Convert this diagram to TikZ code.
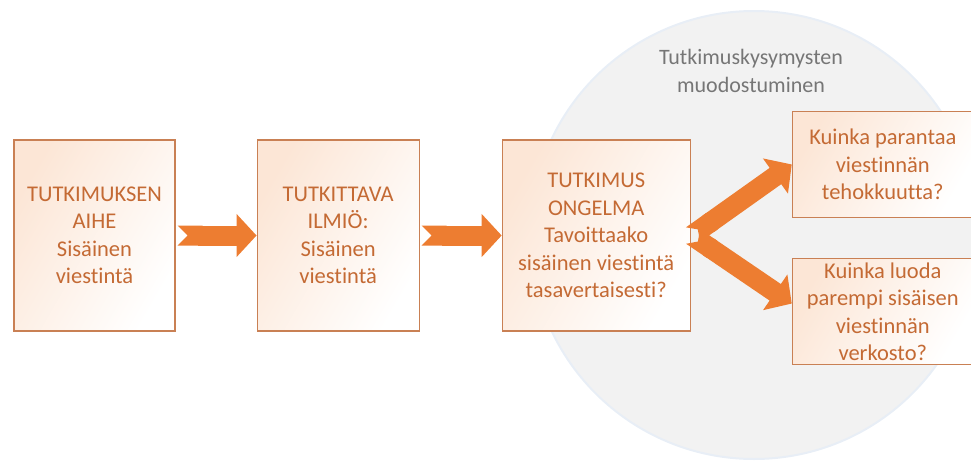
\documentclass[tikz,border=0pt]{standalone}
\usepackage{fontspec}
\setmainfont{Carlito}[Ligatures=NoCommon]
\usetikzlibrary{arrows.meta, positioning, shapes.geometric}
\definecolor{arroworange}{RGB}{237,125,49}
\definecolor{boxline}{RGB}{201,128,84}
\definecolor{boxtext}{RGB}{196,106,52}
\definecolor{peach}{RGB}{252,230,214}
\definecolor{zonegray}{RGB}{242,242,242}
\definecolor{zoneedge}{RGB}{232,238,246}
\definecolor{titlegray}{RGB}{118,118,118}
\tikzstyle{block} = [rectangle, draw=boxline, line width=1.1pt, shading=axis, left color=peach, right color=white, shading angle=60, text=boxtext, align=center, inner xsep=2pt, inner ysep=0pt, font=\fontsize{22.5}{27.5}\selectfont]
\tikzstyle{bigarrow} = [draw=arroworange, line width=20pt, {Triangle Cap[reversed]}-{Triangle[width=42pt,length=20pt]}]

\begin{document}
\begin{tikzpicture}[x=1pt, y=-1pt, node distance=81pt]
  \useasboundingbox (0,0) rectangle (971,461);
  % Background circle
  \node[circle, fill=zonegray, draw=zoneedge, line width=2pt, minimum size=448pt] (zone) at (754,235) {};
  \node[text=titlegray, align=center, font=\fontsize{22}{27.5}\selectfont] (title) at (751,71) {Tutkimuskysymysten\\muodostuminen};

  \node[block, minimum width=161pt, minimum height=191pt] (topic) at (94.5,235.5) {TUTKIMUKSEN\\AIHE\\Sisäinen\\viestintä};
  \node[block, minimum width=162pt, minimum height=191pt, right=of topic] (phen) {TUTKITTAVA\\ILMIÖ:\\Sisäinen\\viestintä};
  \node[block, minimum width=188pt, minimum height=191pt, right=82pt of phen] (probl) {TUTKIMUS\\ONGELMA\\Tavoittaako\\sisäinen viestintä\\tasavertaisesti?};
  \node[block, minimum width=181pt, minimum height=106pt, above right=17.5pt and 101pt of probl.east] (quest1) {Kuinka parantaa\\viestinnän\\tehokkuutta?};
  \node[block, minimum width=181pt, minimum height=106pt, below right=22.5pt and 101pt of probl.east] (quest2) {Kuinka luoda\\parempi sisäisen\\viestinnän\\verkosto?};

  \draw[bigarrow] ([xshift=2pt]topic.east) -- (phen.west);
  \draw[bigarrow] ([xshift=2pt]phen.east) -- (probl.west);
  \draw[bigarrow] ([xshift=1pt]probl.east) -- (quest1.west);
  \draw[bigarrow] ([xshift=1pt]probl.east) -- ([yshift=8pt]quest2.west);
\end{tikzpicture}
\end{document}
